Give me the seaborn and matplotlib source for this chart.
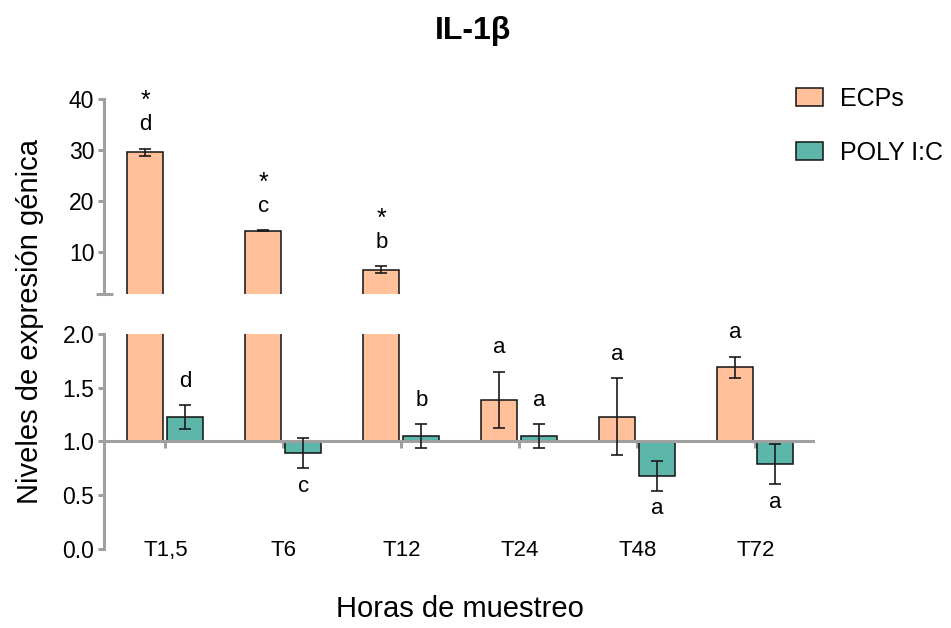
import numpy as np
import pandas as pd
import matplotlib
matplotlib.use("Agg")
import matplotlib.pyplot as plt
import seaborn as sns

# ---- data ----
tiempos = ["T1,5", "T6", "T12", "T24", "T48", "T72"]
tratamientos = ["ECPs", "POLY I:C"]
ecps = [29.6, 14.2, 6.6, 1.39, 1.23, 1.69]
ecps_err = [0.7, 0.1, 0.6, 0.26, 0.36, 0.10]
poly = [1.23, 0.89, 1.05, 1.05, 0.68, 0.79]
poly_err = [0.11, 0.14, 0.11, 0.11, 0.14, 0.19]
letras_ecps = ["d", "c", "b", "a", "a", "a"]
letras_poly = ["d", "c", "b", "a", "a", "a"]
asteriscos_ecps = ["*", "*", "*", "", "", ""]
top_ticks = [10, 20, 30, 40]
bottom_ticks = [0.0, 0.5, 1.0, 1.5, 2.0]

colores = {"ECPs": "#FFC09A", "POLY I:C": "#5DB6AA"}
gris = "#A0A0A0"

sns.set_theme(style="ticks")
plt.rcParams["font.family"] = ["Liberation Sans", "DejaVu Sans"]
plt.rcParams["text.color"] = "black"

df = pd.DataFrame({
    "Tiempo": tiempos * 2,
    "Tratamiento": ["ECPs"] * 6 + ["POLY I:C"] * 6,
    "Valor": ecps + poly,
    "Error": ecps_err + poly_err,
})
df["Altura"] = df["Valor"] - 1.0

fig = plt.figure(figsize=(9.51, 6.28), dpi=100)
ax_top = fig.add_axes([0.1094, 0.5318, 0.7455, 0.3105])
ax_bot = fig.add_axes([0.1094, 0.1258, 0.7455, 0.3424])

for ax in (ax_top, ax_bot):
    sns.barplot(data=df, x="Tiempo", y="Altura", hue="Tratamiento",
                order=tiempos, hue_order=tratamientos, palette=colores,
                width=0.68, gap=0.1, errorbar=None, bottom=1.0,
                edgecolor="#111111", linewidth=1.1, saturation=1,
                legend=False, ax=ax)
    ax.set_xlim(-0.52, 5.49)
    ax.set_xlabel("")
    ax.set_ylabel("")

handles = [ax_bot.patches[0], ax_bot.patches[6]]
labels = tratamientos

ax_top.set_ylim(1.8, 40)
ax_bot.set_ylim(0, 2.0)

fs_letra = 16

for i, row in df.iterrows():
    val, err = row["Valor"], row["Error"]
    ax = ax_top if val > 2 else ax_bot
    p = ax.patches[i]
    xc = p.get_x() + p.get_width() / 2
    ax.errorbar(xc, val, yerr=err, fmt="none", ecolor="#1a1a1a",
                elinewidth=1.2, capsize=4.5, capthick=1.2, zorder=3)
    j = i % 6
    if row["Tratamiento"] == "ECPs":
        letra, ast = letras_ecps[j], asteriscos_ecps[j]
    else:
        letra, ast = letras_poly[j], ""
    if val >= 1:
        y, off = val + err, 17
        if ast:
            ax.annotate(ast, (xc, y), xytext=(0, off + 17), textcoords="offset points",
                        ha="center", va="center", fontsize=18, color="black",
                        annotation_clip=False)
    else:
        y, off = val - err, -13
    ax.annotate(letra, (xc, y), xytext=(0, off), textcoords="offset points",
                ha="center", va="center", fontsize=fs_letra, color="black",
                annotation_clip=False)

# spines & ticks
for ax in (ax_top, ax_bot):
    ax.spines["right"].set_visible(False)
    ax.spines["top"].set_visible(False)
    ax.spines["left"].set_color(gris)
    ax.spines["left"].set_linewidth(2.2)
    ax.tick_params(axis="y", colors=gris, labelcolor="black", labelsize=16.5,
                   width=2.2, length=4.5, direction="out", pad=2.5)

ax_top.spines["bottom"].set_visible(False)
ax_top.set_xticks([])
ax_top.set_yticks(top_ticks)
ax_top.plot([-0.012, 0.012], [0, 0], transform=ax_top.transAxes,
            color=gris, lw=2.2, clip_on=False, solid_capstyle="butt")

ax_bot.set_yticks(bottom_ticks)
ax_bot.set_yticklabels([f"{t:.1f}" for t in bottom_ticks])
ax_bot.spines["bottom"].set_position(("data", 1.0))
ax_bot.spines["bottom"].set_color(gris)
ax_bot.spines["bottom"].set_linewidth(2.2)
ax_bot.tick_params(axis="x", colors=gris, labelcolor="black", labelsize=16,
                   width=2.2, length=5, direction="out", pad=66)

fig.legend(handles, labels, loc="upper left", bbox_to_anchor=(0.837, 0.862),
           frameon=False, fontsize=18, handlelength=1.08, handleheight=0.72,
           labelspacing=1.2, handletextpad=0.68, borderpad=0, borderaxespad=0,
           labelcolor="black")

fig.text(0.497, 0.951, "IL-1β", ha="center", va="center",
         fontsize=23, fontweight="bold", color="black")
fig.text(0.032, 1 - 322 / 628, "Niveles de expresión génica", rotation=90,
         ha="center", va="center", fontsize=21, color="black")
fig.text(0.484, 1 - 609 / 628, "Horas de muestreo", ha="center", va="center",
         fontsize=21, color="black")

fig.savefig("out.png", dpi=100)
